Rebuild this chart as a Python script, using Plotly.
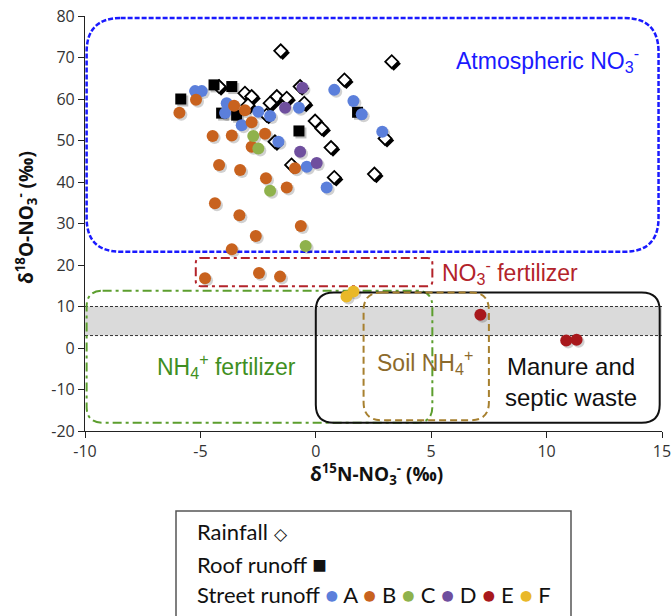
import plotly.graph_objects as go

# ---------------- data ----------------
rain_x = [-1.52, 3.29, 1.24, -3.07, -2.78, -1.69, -1.98, -2.94, -2.13, -4.19, -1.77,
          -0.68, -0.50, -0.03, 0.26, 0.66, 3.0, -1.05, 0.80, 2.54, -1.26]
rain_y = [71.6, 69.0, 64.6, 61.4, 60.6, 60.6, 59.0, 58.5, 56.1, 63.0, 49.7,
          63.0, 59.0, 54.7, 52.9, 48.3, 50.5, 44.1, 41.1, 41.9, 60.2]

roof_x = [-5.85, -4.41, -3.64, -4.08, -3.43, -0.73, 1.81]
roof_y = [60.0, 63.4, 63.0, 56.6, 56.1, 52.3, 56.8]

a_x = [-5.23, -4.94, -3.86, -3.93, -3.21, -2.49, -1.98, -1.62, 0.80, 1.63, 1.99, 2.88, -0.73, -0.39, 0.47]
a_y = [61.9, 61.9, 59.0, 56.6, 53.7, 56.9, 55.9, 49.7, 62.2, 59.5, 56.3, 52.1, 57.9, 43.7, 38.7]

b_x = [-5.91, -5.19, -3.54, -3.07, -2.78, -4.47, -3.64, -2.20, -2.78, -4.19, -3.28, -2.16,
       -1.26, -4.37, -3.31, -2.60, -3.64, -2.46, -1.55, -4.80, -0.90, -0.65]
b_y = [56.7, 59.8, 58.4, 57.3, 54.4, 51.1, 51.2, 51.6, 48.5, 44.1, 42.9, 40.9,
       38.7, 34.9, 32.0, 27.0, 23.8, 18.1, 17.2, 16.8, 43.3, 29.4]

c_x = [-2.71, -2.49, -1.98, -0.44]
c_y = [51.1, 48.1, 37.9, 24.6]

d_x = [-1.33, -0.58, -0.68, 0.04]
d_y = [57.9, 62.7, 47.3, 44.6]

e_x = [7.13, 10.85, 11.30]
e_y = [8.0, 1.8, 2.0]

f_x = [1.33, 1.63]
f_y = [12.4, 13.6]

street_names = ["A", "B", "C", "D", "E", "F"]
street_colors = ["#5b7fdb", "#c8621e", "#8fb24c", "#6f4f9e", "#a8181c", "#e9b828"]

x_ticks = [-10, -5, 0, 5, 10, 15]
y_ticks = [-20, -10, 0, 10, 20, 30, 40, 50, 60, 70, 80]

x_title = "<b>δ<sup>15</sup>N-NO<sub>3</sub><sup>-</sup> (‰)</b>"
y_title = "<b>δ<sup>18</sup>O-NO<sub>3</sub><sup>-</sup> (‰)</b>"

# source regions: (x0, x1, y0, y1)
regions = {
    "atm": (-9.93, 14.85, 23.2, 79.5),
    "no3f": (-5.2, 5.05, 14.9, 21.7),
    "nh4f": (-9.93, 5.05, -18.0, 13.8),
    "manure": (0.0, 14.9, -18.0, 13.4),
    "soil": (2.07, 7.5, -17.4, 13.4),
}
band = (3.0, 10.0)

# ---------------- layout geometry ----------------
W, H = 671, 616
ML, MR, MT, MB = 85, 9, 16, 185
PW, PH = W - ML - MR, H - MT - MB
XR, YR = [-10, 15], [-20, 80]
ux = PW / (XR[1] - XR[0])   # px per x unit
uy = PH / (YR[1] - YR[0])   # px per y unit


def rrect(x0, x1, y0, y1, r):
    rx, ry = r / ux, r / uy
    return (f"M {x0+rx},{y1} L {x1-rx},{y1} Q {x1},{y1} {x1},{y1-ry} "
            f"L {x1},{y0+ry} Q {x1},{y0} {x1-rx},{y0} L {x0+rx},{y0} "
            f"Q {x0},{y0} {x0},{y0+ry} L {x0},{y1-ry} Q {x0},{y1} {x0+rx},{y1} Z")


fig = go.Figure()

sx, sy = 2 / ux, 2 / uy


def add(x, y, axis, **kw):
    fig.add_trace(go.Scatter(x=x, y=y, mode="markers", showlegend=False,
                             hoverinfo="skip", xaxis="x" + axis, yaxis="y" + axis, **kw))


# shadows
add(rain_x, rain_y, "2", marker=dict(symbol="diamond", size=11, color="black"))
add(roof_x, roof_y, "2", marker=dict(symbol="square", size=11, color="rgba(0,0,0,0.25)"))
street = [(a_x, a_y), (b_x, b_y), (c_x, c_y), (d_x, d_y), (e_x, e_y), (f_x, f_y)]
for (xs, ys) in street:
    add(xs, ys, "2", marker=dict(symbol="circle", size=12, color="rgba(0,0,0,0.18)"))

# main markers
add(rain_x, rain_y, "3", marker=dict(symbol="diamond", size=10, color="white",
                                      line=dict(color="black", width=1.8)))
add(roof_x, roof_y, "3", marker=dict(symbol="square", size=11, color="black"))
for (xs, ys), col in zip(street, street_colors):
    add(xs, ys, "3", marker=dict(symbol="circle", size=12, color=col))

shapes = []
shapes.append(dict(type="rect", xref="x", yref="y", x0=XR[0], x1=XR[1], y0=band[0], y1=band[1],
                   fillcolor="#dadada", line=dict(width=0), layer="below"))
for yv in band:
    shapes.append(dict(type="line", xref="x", yref="y", x0=XR[0], x1=XR[1], y0=yv, y1=yv,
                       line=dict(color="#333333", width=1, dash="3px,2px"), layer="below"))

styles = {
    "atm": dict(color="#1a1aff", width=2.5, dash="5px,2px"),
    "no3f": dict(color="#b3232a", width=2, dash="9px,4px,3px,4px"),
    "nh4f": dict(color="#5c9e2e", width=2, dash="9px,4px,3px,4px"),
    "manure": dict(color="#111111", width=2),
    "soil": dict(color="#a7802f", width=2, dash="7px,4px"),
}
radii = {"atm": 34, "no3f": 5, "nh4f": 16, "manure": 18, "soil": 18}
for key, (x0, x1, y0, y1) in regions.items():
    shapes.append(dict(type="path", xref="x", yref="y", path=rrect(x0, x1, y0, y1, radii[key]),
                       line=styles[key], fillcolor="rgba(0,0,0,0)", layer="below"))


def px2paper_x(p):
    return (p - ML) / PW


def px2paper_y(p):
    return (H - MB - p) / PH


shapes.append(dict(type="rect", xref="paper", yref="paper",
                   x0=px2paper_x(176), x1=px2paper_x(571),
                   y0=px2paper_y(630), y1=px2paper_y(511),
                   line=dict(color="#555555", width=1.5), fillcolor="white"))

afont = "Liberation Sans, Arial, sans-serif"
annotations = [
    dict(x=10.06, y=69.4, text="Atmospheric NO<sub>3</sub><sup>-</sup>", showarrow=False,
         font=dict(family=afont, size=23, color="#1a1aff")),
    dict(x=5.4, y=18.4, text="NO<sub>3</sub><sup>-</sup> fertilizer", showarrow=False, xanchor="left",
         font=dict(family=afont, size=23, color="#b3232a")),
    dict(x=-3.85, y=-4.3, text="NH<sub>4</sub><sup>+</sup> fertilizer", showarrow=False,
         font=dict(family=afont, size=23, color="#3f8f22")),
    dict(x=4.75, y=-3.3, text="Soil NH<sub>4</sub><sup>+</sup>", showarrow=False,
         font=dict(family=afont, size=23, color="#8c6a2c")),
    dict(x=11.06, y=-8.2, text="Manure and<br>septic waste", showarrow=False,
         font=dict(family=afont, size=24, color="#111111")),
]

titlefont = dict(family="Open Sans, sans-serif", size=19, color="#111")
annotations.append(dict(xref="paper", yref="paper", x=px2paper_x(376), y=px2paper_y(474),
                        text=x_title, showarrow=False, font=titlefont,
                        xanchor="center", yanchor="middle"))
annotations.append(dict(xref="paper", yref="paper", x=px2paper_x(26), y=px2paper_y(218),
                        text=y_title, showarrow=False, font=titlefont, textangle=-90,
                        xanchor="center", yanchor="middle"))

lfont = dict(family="Lato, Open Sans, sans-serif", size=22, color="#111111")
street_txt = "Street runoff " + " ".join(
    f"<span style='color:{c}'>●</span> {n}" for n, c in zip(street_names, street_colors))
for txt, py in [("Rainfall <span style='font-size:17px'>◇</span>", 531),
                ("Roof runoff <span style='font-size:24px'>■</span>", 563),
                (street_txt, 594)]:
    annotations.append(dict(xref="paper", yref="paper", x=px2paper_x(195), y=px2paper_y(py),
                            xanchor="left", yanchor="middle", text=txt, showarrow=False, font=lfont))

tickfont = dict(family="Open Sans, sans-serif", size=16, color="#333333")
fig.update_layout(
    width=W, height=H,
    margin=dict(l=ML, r=MR, t=MT, b=MB, autoexpand=False),
    plot_bgcolor="white", paper_bgcolor="white",
    shapes=shapes, annotations=annotations,
    xaxis=dict(range=XR, tickvals=x_ticks, ticktext=[str(v) for v in x_ticks],
               showgrid=False, zeroline=False, showline=True, linecolor="#222", linewidth=1.2,
               ticks="outside", ticklen=6, tickcolor="#222", tickfont=tickfont,
               ticklabeloverflow="allow", automargin=False),
    yaxis=dict(range=YR, tickvals=y_ticks, ticktext=[str(v) for v in y_ticks],
               showgrid=False, zeroline=False, showline=True, linecolor="#222", linewidth=1.2,
               ticks="outside", ticklen=6, tickcolor="#222", tickfont=tickfont,
               ticklabeloverflow="allow", automargin=False),
    xaxis2=dict(range=[XR[0] - sx, XR[1] - sx], overlaying="x", visible=False),
    yaxis2=dict(range=[YR[0] + sy, YR[1] + sy], overlaying="y", visible=False),
    xaxis3=dict(range=XR, overlaying="x", visible=False),
    yaxis3=dict(range=YR, overlaying="y", visible=False),
)

fig.write_html("out.html")
